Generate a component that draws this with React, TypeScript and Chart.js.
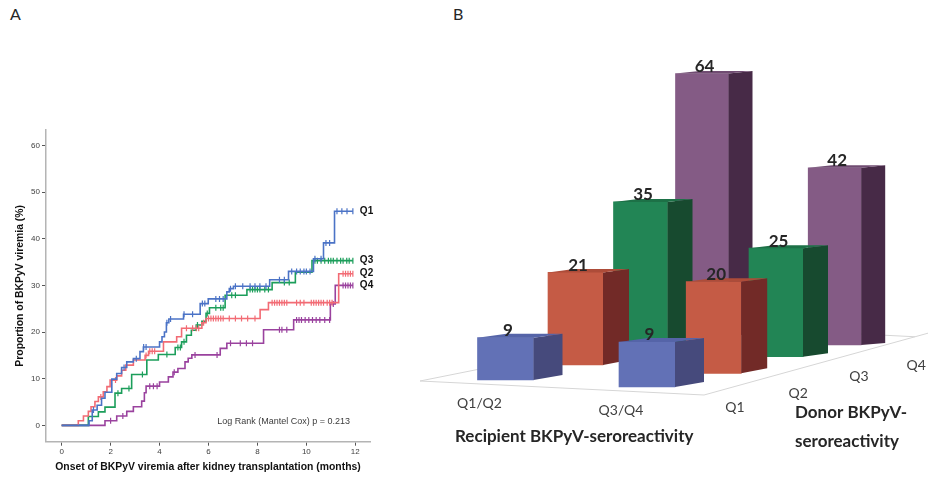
import React, { useEffect, useRef } from 'react';
import { Chart, registerables } from 'chart.js';

Chart.register(...registerables);

// ---------- Panel A: cumulative incidence of BKPyV viremia ----------
const monthTicks = [0, 2, 4, 6, 8, 10, 12];
const percentTicks = [0, 10, 20, 30, 40, 50, 60];
const curveNames = ['Q1', 'Q2', 'Q3', 'Q4'];
const logRankText = 'Log Rank (Mantel Cox) p = 0.213';

const q1EventMonths = [0, 1.12, 1.25, 1.45, 1.63, 1.77, 2.05, 2.25, 2.45, 2.66, 2.93, 3.2, 3.34, 4.0, 4.1, 4.2, 4.28, 4.38, 4.98, 5.66, 5.99, 6.75, 6.85, 7.02, 8.5, 9.27, 10.29, 10.7, 11.15];
const q1CumulativePct = [0, 1, 3.3, 4.3, 5.8, 7.1, 9.9, 11.1, 12.4, 13.6, 14.3, 15.8, 16.8, 17.9, 19, 20, 22, 22.8, 23.8, 26.1, 27.1, 28.6, 29.3, 29.8, 31.2, 33.0, 35.7, 39.1, 45.9];
const q1CensoredMonths = [1.3, 2.55, 3.05, 3.35, 3.45, 4.3, 4.45, 5.0, 5.35, 5.75, 5.85, 6.3, 6.45, 6.6, 6.9, 7.1, 7.4, 7.7, 7.9, 8.1, 8.35, 8.9, 9.1, 9.4, 9.6, 9.75, 9.9, 10.0, 10.15, 10.35, 10.6, 10.8, 10.95, 11.25, 11.45, 11.66, 11.9];

const q2EventMonths = [0, 0.68, 0.89, 1.09, 1.2, 1.36, 1.5, 1.7, 1.85, 1.98, 2.25, 2.45, 2.62, 2.93, 3.41, 3.55, 4.16, 4.7, 4.9, 5.73, 5.9, 8.11, 8.45, 11.32];
const q2CumulativePct = [0, 1, 2, 3, 4, 5.1, 6.1, 7.2, 8.3, 9.7, 10.6, 11.8, 12.9, 14, 15, 15.9, 17.9, 19, 20.8, 22, 22.9, 24.8, 26.3, 32.5];
const q2CensoredMonths = [1.6, 2.2, 3.45, 3.6, 3.7, 3.8, 5.1, 5.35, 5.5, 5.6, 5.8, 6.0, 6.1, 6.2, 6.3, 6.4, 6.5, 6.6, 6.85, 7.1, 7.35, 7.6, 7.9, 8.6, 8.7, 8.8, 8.9, 9.0, 9.1, 9.2, 9.6, 9.75, 9.9, 10.2, 10.3, 10.4, 10.5, 10.6, 10.7, 10.85, 10.95, 11.05, 11.5, 11.6, 11.7, 11.8, 11.9];

const q3EventMonths = [0, 1.09, 1.5, 1.77, 2.18, 2.45, 2.86, 3.48, 3.95, 4.64, 4.9, 5.1, 5.3, 5.5, 5.73, 5.9, 6.04, 6.68, 7.57, 8.6, 9.55, 10.23];
const q3CumulativePct = [0, 1.9, 2.9, 3.9, 6.9, 7.9, 10.9, 14, 15.2, 16.7, 17.9, 19.3, 20.4, 21.5, 22.3, 24, 25.2, 27.9, 29.1, 30.6, 32.8, 35.3];
const q3CensoredMonths = [2.3, 2.75, 3.3, 4.3, 4.75, 4.85, 5.0, 5.55, 5.95, 6.3, 6.5, 6.6, 6.95, 7.1, 7.7, 7.8, 7.9, 8.0, 8.1, 8.3, 8.45, 9.1, 9.3, 10.35, 10.45, 10.6, 10.75, 10.9, 11.0, 11.1, 11.25, 11.4, 11.5, 11.65, 11.75, 11.9];

const q4EventMonths = [0, 1.77, 2.25, 2.66, 2.93, 3.27, 3.38, 3.45, 4.0, 4.36, 4.55, 4.75, 5.04, 5.17, 5.32, 6.48, 6.75, 8.25, 9.48, 10.98, 11.18];
const q4CumulativePct = [0, 1, 2, 3, 4, 5.2, 7, 8.4, 9.3, 10.4, 11.4, 12.2, 13.6, 14.4, 15.1, 16.5, 17.6, 20.5, 22.6, 26, 30];
const q4CensoredMonths = [2.0, 2.5, 3.6, 3.75, 3.9, 4.6, 5.45, 6.35, 6.9, 7.3, 7.55, 7.8, 8.9, 9.0, 9.2, 9.6, 9.7, 9.8, 9.95, 10.1, 10.25, 10.4, 10.55, 10.75, 10.95, 11.1, 11.5, 11.6, 11.7, 11.8, 11.9];

// ---------- Panel B: viremia rate (%) by recipient x donor seroreactivity ----------
const recipientGroups = ['Q1/Q2', 'Q3/Q4'];
const donorGroups = ['Q1', 'Q2', 'Q3', 'Q4'];
const donorQ1Rates = [9, 9];
const donorQ2Rates = [21, 20];
const donorQ3Rates = [35, 25];
const donorQ4Rates = [64, 42];
const recipientTitle = 'Recipient BKPyV-seroreactivity';
const donorTitle = ['Donor BKPyV-', 'seroreactivity'];

// ---------- styling ----------
const kmColors = ['#4b73c6', '#f26b74', '#1c9e5b', '#9a429e'];
const arial = "'Liberation Sans', Arial, sans-serif";
const calibriLike = "Lato, 'Open Sans', sans-serif";

const barFaces = [
  { front: '#6271b6', side: '#464a7c', top: '#5564a8' },
  { front: '#c55b45', side: '#722a27', top: '#ad4c39' },
  { front: '#228555', side: '#174a2f', top: '#1d7147' },
  { front: '#845b85', side: '#472a47', top: '#704c72' },
];

// perspective layout for each donor row (front row first), canvas pixels
const rowLayout = [
  { center: 85.5, colStep: 141.5, base: [380, 387], pxPerPct: [4.7, 5.0], width: 56, depth: 29, topRise: 4, baseRise: 5 },
  { center: 155.5, colStep: 138.2, base: [365, 373.3], pxPerPct: [4.41, 4.58], width: 55, depth: 26, topRise: 3.5, baseRise: 5 },
  { center: 220.5, colStep: 135.5, base: [351, 356.7], pxPerPct: [4.26, 4.34], width: 54, depth: 25, topRise: 3, baseRise: 3.5 },
  { center: 282, colStep: 132.7, base: [336, 345], pxPerPct: [4.1, 4.22], width: 53, depth: 24, topRise: 2.5, baseRise: 2 },
];
const PANEL_B_W = 508;
const PANEL_B_H = 477;

type Curve = { name: string; months: number[]; pct: number[]; censored: number[] };
const curves: Curve[] = [
  { name: curveNames[0], months: q1EventMonths, pct: q1CumulativePct, censored: q1CensoredMonths },
  { name: curveNames[1], months: q2EventMonths, pct: q2CumulativePct, censored: q2CensoredMonths },
  { name: curveNames[2], months: q3EventMonths, pct: q3CumulativePct, censored: q3CensoredMonths },
  { name: curveNames[3], months: q4EventMonths, pct: q4CumulativePct, censored: q4CensoredMonths },
];

function pctAt(c: Curve, t: number) {
  let v = c.pct[0];
  for (let i = 0; i < c.months.length; i++) if (c.months[i] <= t) v = c.pct[i];
  return v;
}
function followUpEnd(c: Curve) {
  return Math.max(...c.censored, ...c.months);
}

const kmAnnotations = {
  id: 'kmAnnotations',
  afterDraw(chart: any) {
    const { ctx, chartArea, scales } = chart;
    const x = scales.x;
    const y = scales.y;
    ctx.save();
    ctx.font = `bold 10px ${arial}`;
    ctx.fillStyle = '#111';
    ctx.textBaseline = 'middle';
    ctx.textAlign = 'left';
    curves.forEach((c) => {
      ctx.fillText(c.name, x.getPixelForValue(followUpEnd(c)) + 7, y.getPixelForValue(c.pct[c.pct.length - 1]));
    });
    ctx.font = `9px ${arial}`;
    ctx.fillStyle = '#3c3c3c';
    ctx.textAlign = 'right';
    ctx.fillText(logRankText, chartArea.right - 20, chartArea.bottom - 20.5);
    ctx.restore();
  },
};

const donorRates = [donorQ1Rates, donorQ2Rates, donorQ3Rates, donorQ4Rates];
const barCells = donorRates.flatMap((rates, row) => rates.map((value, col) => ({ row, col, value })));

function poly(ctx: CanvasRenderingContext2D, pts: number[][], fill: string) {
  ctx.beginPath();
  ctx.moveTo(pts[0][0], pts[0][1]);
  for (let i = 1; i < pts.length; i++) ctx.lineTo(pts[i][0], pts[i][1]);
  ctx.closePath();
  ctx.fillStyle = fill;
  ctx.fill();
}

const bars3d = {
  id: 'bars3d',
  beforeDatasetsDraw(chart: any) {
    const { ctx, scales } = chart;
    const g = rowLayout[0];
    const frontRightX = scales.x0.getPixelForValue(1) + g.width / 2 + g.depth;
    const frontRightY = scales.y01.getPixelForValue(0) + 8;
    const frontLeftY = scales.y00.getPixelForValue(0) + 1;
    ctx.save();
    ctx.strokeStyle = '#d6d6d6';
    ctx.lineWidth = 1;
    ctx.beginPath();
    ctx.moveTo(0, frontLeftY);
    ctx.lineTo(frontRightX, frontRightY);
    ctx.lineTo(PANEL_B_W, frontRightY - 0.276 * (PANEL_B_W - frontRightX));
    ctx.moveTo(0, frontLeftY);
    ctx.lineTo(70, frontLeftY - 0.2 * 70);
    const cornerX = 495;
    const cornerY = frontRightY - 0.276 * (cornerX - frontRightX);
    ctx.moveTo(cornerX, cornerY);
    ctx.lineTo(280, cornerY - 0.05 * (cornerX - 280));
    ctx.stroke();
    ctx.restore();
  },
  afterDatasetDraw(chart: any, args: any) {
    const cell = barCells[args.index];
    const g = rowLayout[cell.row];
    const faces = barFaces[cell.row];
    const el = args.meta.data[0];
    if (!el) return;
    const { x, y, base, width } = el.getProps(['x', 'y', 'base', 'width'], true);
    const left = x - width / 2;
    const right = x + width / 2;
    const ctx = chart.ctx;
    ctx.save();
    poly(ctx, [[right, y], [right + g.depth, y - g.topRise], [right + g.depth, base - g.baseRise], [right, base]], faces.side);
    poly(ctx, [[left, y], [right, y], [right + g.depth, y - g.topRise], [left + g.depth, y - g.topRise]], faces.top);
    ctx.restore();
  },
  afterDatasetsDraw(chart: any) {
    const ctx = chart.ctx;
    ctx.save();
    ctx.font = `bold 17px ${calibriLike}`;
    ctx.fillStyle = '#262626';
    ctx.textAlign = 'center';
    ctx.textBaseline = 'middle';
    barCells.forEach((cell, i) => {
      const el = chart.getDatasetMeta(i).data[0];
      if (!el) return;
      const { x, y } = el.getProps(['x', 'y'], true);
      ctx.fillText(String(cell.value), x + 2.5, y - 7);
    });
    ctx.restore();
  },
  afterDraw(chart: any) {
    const { ctx, scales } = chart;
    ctx.save();
    ctx.fillStyle = '#404040';
    ctx.font = `14px ${calibriLike}`;
    ctx.textAlign = 'center';
    ctx.textBaseline = 'middle';
    recipientGroups.forEach((label, c) => {
      ctx.fillText(label, scales.x0.getPixelForValue(c) - 26, scales[`y0${c}`].getPixelForValue(0) + 23);
    });
    donorGroups.forEach((label, r) => {
      const g = rowLayout[r];
      ctx.fillText(label, scales[`x${r}`].getPixelForValue(1) + g.width / 2 + g.depth + 31, scales[`y${r}1`].getPixelForValue(0) + 20);
    });
    ctx.fillStyle = '#262626';
    ctx.font = `bold 17px ${calibriLike}`;
    ctx.textAlign = 'left';
    ctx.fillText(recipientTitle, 35, 437);
    ctx.fillText(donorTitle[0], 375, 413);
    ctx.fillText(donorTitle[1], 375, 442);
    ctx.restore();
  },
};

export default function App() {
  const kmRef = useRef<HTMLCanvasElement>(null);
  const barRef = useRef<HTMLCanvasElement>(null);

  useEffect(() => {
    const kmDatasets: any[] = [];
    curves.forEach((c, i) => {
      const end = followUpEnd(c);
      const stepPoints = c.months.map((t, k) => ({ x: t, y: c.pct[k] }));
      stepPoints.push({ x: end, y: c.pct[c.pct.length - 1] });
      kmDatasets.push({
        type: 'line',
        label: c.name,
        data: stepPoints,
        borderColor: kmColors[i],
        borderWidth: 1.6,
        pointRadius: 0,
        stepped: 'before',
        fill: false,
      });
      kmDatasets.push({
        type: 'scatter',
        label: `${c.name} censored`,
        data: c.censored.map((t) => ({ x: t, y: pctAt(c, t) })),
        borderColor: kmColors[i],
        backgroundColor: kmColors[i],
        pointStyle: 'line',
        rotation: 90,
        pointRadius: 3,
        borderWidth: 1.2,
        showLine: false,
      });
    });

    const km = new Chart(kmRef.current as HTMLCanvasElement, {
      type: 'line',
      data: { datasets: kmDatasets },
      options: {
        animation: false,
        responsive: false,
        devicePixelRatio: 1,
        events: [],
        layout: { padding: { top: 10, right: 20, left: 0, bottom: 0 } },
        plugins: { legend: { display: false }, tooltip: { enabled: false } },
        scales: {
          x: {
            type: 'linear',
            min: -0.64,
            max: 12.6,
            afterBuildTicks: (s: any) => { s.ticks = monthTicks.map((v) => ({ value: v })); },
            afterFit: (s: any) => { s.height = 35.3; },
            ticks: { font: { family: arial, size: 8 }, color: '#404040', padding: 1, maxRotation: 0, autoSkip: false },
            grid: { drawOnChartArea: false, tickLength: 4, tickColor: '#555', color: '#555' },
            border: { color: '#b4b4b4', width: 1.5 },
            title: {
              display: true,
              text: 'Onset of BKPyV viremia after kidney transplantation (months)',
              font: { family: arial, size: 10.4, weight: 'bold' },
              color: '#111',
              padding: { top: 0, bottom: 3.8 },
            },
          },
          y: {
            type: 'linear',
            min: -3.5,
            max: 63.3,
            afterBuildTicks: (s: any) => { s.ticks = percentTicks.map((v) => ({ value: v })); },
            afterFit: (s: any) => { s.width = 46; },
            ticks: { font: { family: arial, size: 8 }, color: '#404040', padding: 2, autoSkip: false },
            grid: { drawOnChartArea: false, tickLength: 4, tickColor: '#555', color: '#555' },
            border: { color: '#b4b4b4', width: 1.5 },
            title: {
              display: true,
              text: 'Proportion of BKPyV viremia (%)',
              font: { family: arial, size: 10.4, weight: 'bold' },
              color: '#111',
              padding: { top: 13.8, bottom: 0 },
            },
          },
        },
      } as any,
      plugins: [kmAnnotations],
    });

    const barScales: any = {};
    rowLayout.forEach((g, r) => {
      barScales[`x${r}`] = {
        type: 'linear',
        display: false,
        offset: false,
        min: -g.center / g.colStep,
        max: (PANEL_B_W - g.center) / g.colStep,
      };
      g.base.forEach((b, c) => {
        barScales[`y${r}${c}`] = {
          type: 'linear',
          display: false,
          offset: false,
          min: -(PANEL_B_H - b) / g.pxPerPct[c],
          max: b / g.pxPerPct[c],
        };
      });
    });

    const bars = new Chart(barRef.current as HTMLCanvasElement, {
      type: 'bar',
      data: {
        datasets: barCells.map((cell) => ({
          label: `Donor ${donorGroups[cell.row]} / Recipient ${recipientGroups[cell.col]}`,
          data: [{ x: cell.col, y: cell.value }],
          xAxisID: `x${cell.row}`,
          yAxisID: `y${cell.row}${cell.col}`,
          backgroundColor: barFaces[cell.row].front,
          borderWidth: 0,
          barThickness: rowLayout[cell.row].width,
          grouped: false,
        })),
      },
      options: {
        animation: false,
        responsive: false,
        devicePixelRatio: 1,
        events: [],
        layout: { padding: 0 },
        plugins: { legend: { display: false }, tooltip: { enabled: false } },
        scales: barScales,
      } as any,
      plugins: [bars3d],
    });

    return () => {
      km.destroy();
      bars.destroy();
    };
  }, []);

  const letter: React.CSSProperties = {
    position: 'absolute',
    top: 4,
    fontFamily: calibriLike,
    fontSize: 16,
    lineHeight: '20px',
    color: '#262626',
  };

  return (
    <div style={{ position: 'fixed', left: 0, top: 0, width: 928, height: 477, background: '#fff', overflow: 'hidden' }}>
      <div style={{ ...letter, left: 10 }}>A</div>
      <div style={{ ...letter, left: 453 }}>B</div>
      <canvas ref={kmRef} width={390} height={357} style={{ position: 'absolute', left: 0, top: 120, width: 390, height: 357 }} />
      <canvas ref={barRef} width={PANEL_B_W} height={PANEL_B_H} style={{ position: 'absolute', left: 420, top: 0, width: PANEL_B_W, height: PANEL_B_H }} />
    </div>
  );
}
